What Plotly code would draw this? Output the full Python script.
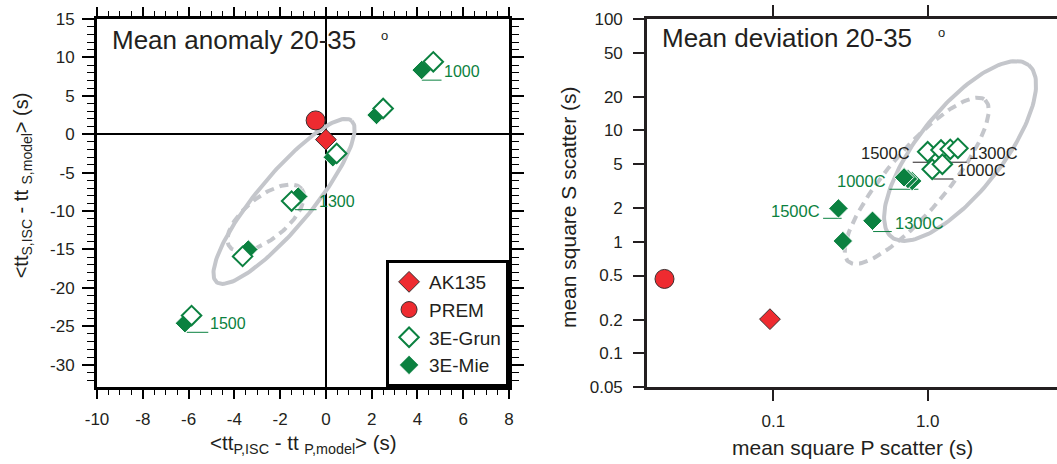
import numpy as np
import plotly.graph_objects as go

GREEN = "#0b8140"
RED = "#ee2b30"
GREY = "#c4c6cb"
INK = "#231f20"
FONT = "Liberation Sans, Arial, sans-serif"

# --- left panel: mean anomaly 20-35 deg (s) ---
ak135_anom_x = [0.0]
ak135_anom_y = [-0.7]
prem_anom_x = [-0.45]
prem_anom_y = [1.8]
grun_anom_x = [0.47, 2.5, 4.69, -1.5, -3.64, -5.87]
grun_anom_y = [-2.5, 3.35, 9.43, -8.7, -15.9, -23.6]
mie_anom_x = [0.3, 2.21, 4.18, -1.21, -3.39, -6.16]
mie_anom_y = [-3.0, 2.5, 8.35, -8.1, -15.0, -24.6]

# --- right panel: mean square scatter (s) ---
ak135_dev_x = [0.095]
ak135_dev_y = [0.203]
prem_dev_x = [0.0197]
prem_dev_y = [0.466]
grun_dev_x = [1.00, 1.22, 1.40, 1.57, 1.07, 1.245]
grun_dev_y = [6.45, 6.68, 6.78, 6.92, 4.49, 4.98]
mie_dev_x = [0.793, 0.745, 0.703, 0.264, 0.439, 0.282]
mie_dev_y = [3.52, 3.67, 3.80, 2.0, 1.55, 1.02]

# tick labels (hyphen minus, as in the original figure)
anom_xticks = [-10, -8, -6, -4, -2, 0, 2, 4, 6, 8]
anom_yticks = [15, 10, 5, 0, -5, -10, -15, -20, -25, -30]
dev_xticks = [0.1, 1]
dev_xtext = ["0.1", "1.0"]
dev_yticks = [0.05, 0.1, 0.2, 0.5, 1, 2, 5, 10, 20, 50, 100]
dev_ytext = ["0.05", "0.1", "0.2", "0.5", "1", "2", "5", "10", "20", "50", "100"]

# temperature labels
anom_labels = ["1000", "1300", "1500"]
dev_labels = ["1500C", "1300C", "1000C", "1500C", "1300C", "1000C"]
dev_label_colors = [GREEN, GREEN, GREEN, INK, INK, INK]

# label placement (left panel, data units)
anom_lab_x = [5.05, -0.41, -5.14]
anom_lab_y = [8.12, -8.74, -24.68]
anom_lead_x0 = [4.19, -1.35, -6.08]
anom_lead_y = [7.04, -9.82, -25.78]

# label placement (right panel, data units)
dev_lab_x = [0.206, 0.600, 0.556, 0.789, 1.79, 1.51]
dev_lab_y = [1.91, 1.47, 3.52, 6.25, 6.25, 4.42]
dev_lab_anchor = ["right", "left", "right", "right", "left", "left"]
dev_lead_x0 = [0.210, 0.443, 0.565, 0.800, 1.20, 1.089]
dev_lead_x1 = [0.277, 0.585, 0.871, 1.036, 1.79, 1.468]
dev_lead_y = [1.63, 1.24, 2.97, 5.19, 5.19, 3.67]

# uncertainty ellipses: centre, half-axis u, half-axis v
ell_anom_solid = ((-1.83, -8.74), (2.95, 10.5), (0.90, -2.27))
ell_anom_dash = ((-2.63, -10.89), (1.57, 3.79), (0.58, -2.13))
# right panel ellipses are given in log10 units
ell_dev_solid = ((0.210, 0.816), (0.444, 0.772), (0.213, -0.234))
ell_dev_dash = ((-0.071, 0.549), (0.443, 0.725), (0.148, -0.174))


def ellipse(e, n=160):
    (cx, cy), (ux, uy), (vx, vy) = e
    t = np.linspace(0, 2 * np.pi, n)
    return cx + ux * np.cos(t) + vx * np.sin(t), cy + uy * np.cos(t) + vy * np.sin(t)


fig = go.Figure()

# ellipses first so the markers sit on top
for e, dash, log, ax in [(ell_anom_solid, "solid", False, 1), (ell_anom_dash, "9px,6px", False, 1),
                         (ell_dev_solid, "solid", True, 2), (ell_dev_dash, "9px,6px", True, 2)]:
    ex, ey = ellipse(e)
    if log:
        ex, ey = 10 ** ex, 10 ** ey
    fig.add_trace(go.Scatter(x=ex, y=ey, mode="lines", line=dict(color=GREY, width=4, dash=dash),
                             hoverinfo="skip", showlegend=False,
                             xaxis="x" if ax == 1 else "x2", yaxis="y" if ax == 1 else "y2"))

# leader lines under the labels
for x0, x1, y in zip(anom_lead_x0, anom_lab_x, anom_lead_y):
    fig.add_trace(go.Scatter(x=[x0, x1], y=[y, y], mode="lines", line=dict(color=GREEN, width=1),
                             hoverinfo="skip", showlegend=False))
for x0, x1, y, c in zip(dev_lead_x0, dev_lead_x1, dev_lead_y, dev_label_colors):
    fig.add_trace(go.Scatter(x=[x0, x1], y=[y, y], mode="lines", line=dict(color=c, width=1),
                             hoverinfo="skip", showlegend=False, xaxis="x2", yaxis="y2"))

mie_marker = dict(symbol="diamond", size=15, color=GREEN, line=dict(color="white", width=1))
grun_marker = dict(symbol="diamond", size=15, color="white", line=dict(color=GREEN, width=2))
ak_marker = dict(symbol="diamond", size=16, color=RED, line=dict(color="#3b2e2e", width=1))
prem_marker = dict(symbol="circle", size=19, color=RED, line=dict(color="#3b2e2e", width=1))

# left panel markers
fig.add_trace(go.Scatter(x=mie_anom_x, y=mie_anom_y, mode="markers", marker=mie_marker,
                         name="3E-Mie", legendrank=4))
fig.add_trace(go.Scatter(x=grun_anom_x, y=grun_anom_y, mode="markers", marker=grun_marker,
                         name="3E-Grun", legendrank=3))
fig.add_trace(go.Scatter(x=prem_anom_x, y=prem_anom_y, mode="markers", marker=prem_marker,
                         name="PREM", legendrank=2))
fig.add_trace(go.Scatter(x=ak135_anom_x, y=ak135_anom_y, mode="markers", marker=ak_marker,
                         name="AK135", legendrank=1))

# right panel markers
fig.add_trace(go.Scatter(x=mie_dev_x, y=mie_dev_y, mode="markers", marker=mie_marker,
                         showlegend=False, xaxis="x2", yaxis="y2"))
fig.add_trace(go.Scatter(x=grun_dev_x, y=grun_dev_y, mode="markers", marker=grun_marker,
                         showlegend=False, xaxis="x2", yaxis="y2"))
fig.add_trace(go.Scatter(x=prem_dev_x, y=prem_dev_y, mode="markers", marker=prem_marker,
                         showlegend=False, xaxis="x2", yaxis="y2"))
fig.add_trace(go.Scatter(x=ak135_dev_x, y=ak135_dev_y, mode="markers", marker=ak_marker,
                         showlegend=False, xaxis="x2", yaxis="y2"))

annotations = []
for t, x, y in zip(anom_labels, anom_lab_x, anom_lab_y):
    annotations.append(dict(text=t, x=x, y=y, xref="x", yref="y", xanchor="left", yanchor="middle",
                            showarrow=False, font=dict(size=16, color=GREEN)))
for t, x, y, a, c in zip(dev_labels, dev_lab_x, dev_lab_y, dev_lab_anchor, dev_label_colors):
    # annotations on log axes take log10 positions
    annotations.append(dict(text=t, x=np.log10(x), y=np.log10(y), xref="x2", yref="y2", xanchor=a,
                            yanchor="middle", showarrow=False, font=dict(size=16.5, color=c)))

# panel titles and axis titles
annotations += [
    dict(text="Mean anomaly 20-35", x=0.1045, y=0.943, xanchor="left", font=dict(size=26)),
    dict(text="o", x=0.3633, y=0.956, xanchor="center", font=dict(size=13)),
    dict(text="Mean deviation 20-35", x=0.6244, y=0.948, xanchor="left", font=dict(size=26)),
    dict(text="o", x=0.8909, y=0.962, xanchor="center", font=dict(size=13)),
    dict(text="&lt;tt<sub>P,ISC</sub> - tt <sub>P,model</sub>&gt; (s)", x=0.2867, y=-0.155,
         xanchor="center", font=dict(size=20.5)),
    dict(text="&lt;tt<sub>S,ISC</sub> - tt <sub>S,model</sub>&gt; (s)", x=0.0208, y=0.548,
         xanchor="center", textangle=-90, font=dict(size=20)),
    dict(text="mean square P scatter (s)", x=0.807, y=-0.164, xanchor="center", font=dict(size=21)),
    dict(text="mean square S scatter (s)", x=0.5374, y=0.489, xanchor="center", textangle=-90,
         font=dict(size=21)),
]
for a in annotations[-8:]:
    a.update(xref="paper", yref="paper", yanchor="middle", showarrow=False)
    a["font"].setdefault("color", INK)

lin_axis = dict(showline=True, linecolor="black", mirror="allticks", ticks="outside", tickcolor="black",
                showgrid=False, zeroline=True, zerolinecolor="black", zerolinewidth=2, automargin=False,
                tickfont=dict(size=17, color=INK))
log_axis = dict(type="log", showline=True, linecolor=INK, linewidth=2.5, ticks="outside", tickcolor=INK,
                tickwidth=1.5, ticklen=11, showgrid=False, zeroline=False, automargin=False,
                tickfont=dict(size=17, color=INK))

fig.update_layout(
    width=1057, height=464,
    margin=dict(l=0, r=0, t=19, b=77),
    paper_bgcolor="white", plot_bgcolor="white",
    font=dict(family=FONT, color=INK),
    xaxis=dict(lin_axis, domain=[0.0918, 0.4816], range=[-10, 8], ticklen=9,
               tickvals=anom_xticks, ticktext=[str(v) for v in anom_xticks],
               tickwidth=1.5, linewidth=3, ticklabelstandoff=6,
               minor=dict(dtick=0.5, tick0=0, ticks="outside", ticklen=5, tickwidth=1, tickcolor="black")),
    yaxis=dict(lin_axis, domain=[0, 1], range=[-32.9, 15], ticklen=12,
               tickvals=anom_yticks, ticktext=[str(v) for v in anom_yticks],
               tickwidth=1.5, linewidth=3, ticklabelstandoff=4,
               minor=dict(dtick=1, tick0=0, ticks="outside", ticklen=7, tickwidth=1, tickcolor="black")),
    xaxis2=dict(log_axis, domain=[0.6121, 1], anchor="y2", range=[-1.819, 0.838], mirror="ticks",
                tickvals=dev_xticks, ticktext=dev_xtext, ticklabelstandoff=6),
    yaxis2=dict(log_axis, domain=[0, 1], anchor="x2", range=[np.log10(0.05), 2], mirror=False,
                tickvals=dev_yticks, ticktext=dev_ytext, ticklabelstandoff=7),
    legend=dict(x=0.4816, xanchor="right", y=0, yanchor="bottom", bgcolor="white",
                bordercolor="black", borderwidth=3, font=dict(size=19, color=INK)),
    annotations=annotations,
    showlegend=True,
)

# drop the browser's default page margin so the figure sits at the window corner
fig.write_html("out.html", config={"displayModeBar": False},
               post_script="document.body.style.margin='0';")
